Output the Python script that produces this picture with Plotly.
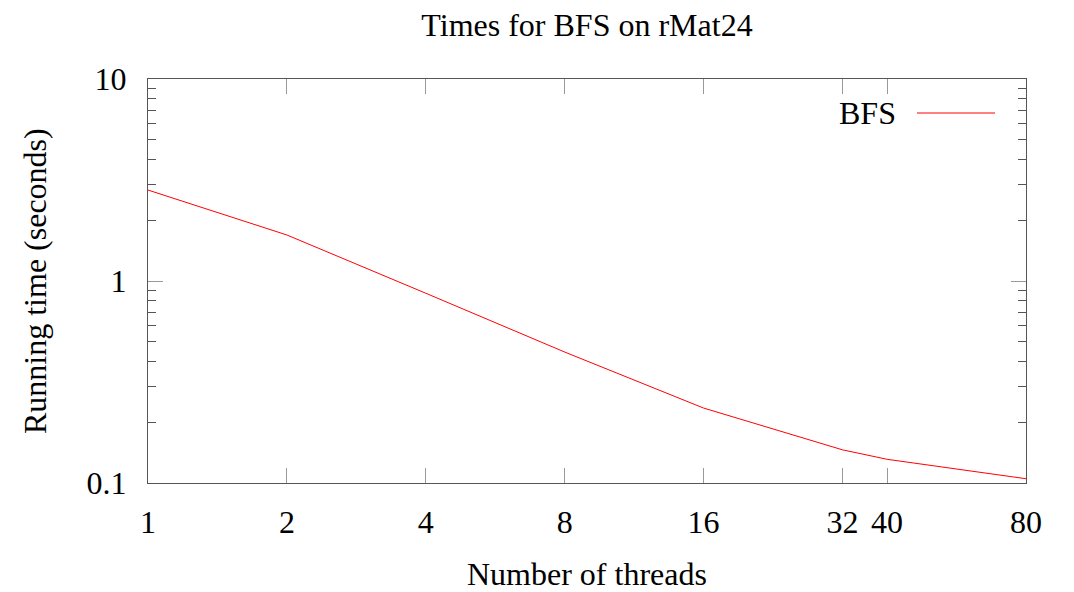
import plotly.graph_objects as go

threads = [1, 2, 4, 8, 16, 32, 40, 80]
times = [2.82, 1.69, 0.87, 0.445, 0.235, 0.146, 0.131, 0.105]
x_ticks = [1, 2, 4, 8, 16, 32, 40, 80]
y_ticks = [0.1, 1, 10]
y_tick_labels = ["0.1", "1", "10"]
y_minor = [0.2, 0.3, 0.4, 0.5, 0.6, 0.7, 0.8, 0.9, 2, 3, 4, 5, 6, 7, 8, 9]

FONT = "Liberation Serif"
FS = 32

fig = go.Figure()
fig.add_trace(go.Scatter(x=threads, y=times, mode="lines",
                         line=dict(color="#ff0000", width=1), name="BFS",
                         showlegend=False))

# page body has an 8px margin, so the figure is drawn 8px smaller and offset
OFF = 8
W, H = 1074 - OFF, 592 - OFF
L, R, T, B = 148 - OFF, 48, 79 - OFF, 109
pw, ph = W - L - R, H - T - B

def px(xr):  # reference pixel x -> paper
    return (xr - OFF - L) / pw

def py(yr):  # reference pixel y -> paper
    return (T + ph - (yr - OFF)) / ph

fig.update_layout(
    width=W, height=H,
    margin=dict(l=L, r=R, t=T, b=B),
    paper_bgcolor="white", plot_bgcolor="white",
    font=dict(family=FONT, size=FS, color="black"),
    title=dict(text="Times for BFS on rMat24", x=(L + pw / 2) / W, xanchor="center",
               y=1 - (25 - OFF) / H, yanchor="middle", font=dict(family=FONT, size=FS)),
)
fig.update_xaxes(
    type="log", range=[0, 1.90309], tickvals=x_ticks, ticktext=[str(v) for v in x_ticks],
    ticks="inside", ticklen=15, tickwidth=1, tickcolor="#999999",
    showline=True, linecolor="#555555", linewidth=1, mirror="allticks",
    showgrid=False, zeroline=False, ticklabelstandoff=11,
)
fig.update_yaxes(
    type="log", range=[-1, 1], tickvals=y_ticks, ticktext=y_tick_labels,
    ticks="inside", ticklen=15, tickwidth=1, tickcolor="#999999",
    showline=True, linecolor="#555555", linewidth=1, mirror="allticks",
    showgrid=False, zeroline=False, ticklabelstandoff=14,
    minor=dict(tickvals=y_minor, ticks="inside", ticklen=8, tickcolor="#555555", showgrid=False),
)

# axis titles
fig.add_annotation(text="Number of threads", xref="paper", yref="paper",
                   x=0.5, y=py(574), xanchor="center", yanchor="middle",
                   showarrow=False, font=dict(family=FONT, size=FS))
fig.add_annotation(text="Running time (seconds)", xref="paper", yref="paper",
                   x=px(35), y=0.5, xanchor="center", yanchor="middle",
                   textangle=-90, showarrow=False, font=dict(family=FONT, size=FS))

# legend (gnuplot style: text then sample line)
ly = py(113)
fig.add_annotation(text="BFS", xref="paper", yref="paper",
                   x=px(898), y=ly, xanchor="right", yanchor="middle",
                   showarrow=False, font=dict(family=FONT, size=FS))
fig.add_shape(type="line", xref="paper", yref="paper",
              x0=px(917), x1=px(995), y0=ly, y1=ly,
              line=dict(color="#ff0000", width=1))

fig.write_html("out.html")
